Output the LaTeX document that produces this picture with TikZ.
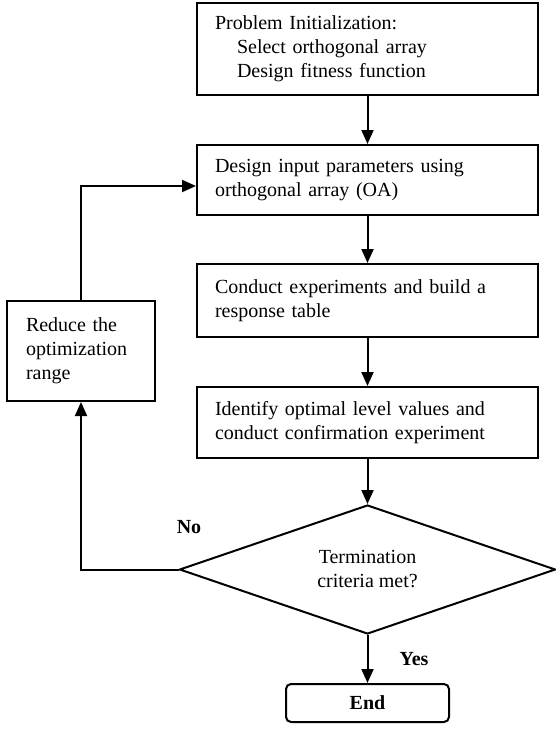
\documentclass[tikz,border=0pt]{standalone}
\usepackage{fontspec}
\setmainfont{Liberation Serif}
\usetikzlibrary{arrows.meta,shapes.geometric}
\begin{document}
\begin{tikzpicture}[x=1pt,y=-1pt,
  every node/.style={font=\fontsize{20}{24}\selectfont},
  arr/.style={line width=2pt,-{Triangle[length=14pt,width=12pt]}},
  procbox/.style={draw,line width=2pt,rectangle,minimum width=341pt,inner xsep=18pt,
     text width=305pt,align=left},
  sidebox/.style={draw,line width=2pt,rectangle,minimum width=148pt,minimum height=100pt,
     inner xsep=19pt,text width=110pt,align=left},
  decision/.style={draw,line width=2pt,diamond,minimum width=376pt,minimum height=129pt,
     inner sep=0pt,aspect=2.93,align=center},
  endbox/.style={draw,line width=2pt,rectangle,rounded corners=5pt,minimum width=163pt,
     minimum height=38pt,font=\fontsize{20}{24}\selectfont\bfseries},
  lbl/.style={font=\fontsize{20}{24}\selectfont\bfseries}]
\useasboundingbox (0,0) rectangle (556,736);
\node[procbox,minimum height=92pt] (b1) at (367.5,49)
  {Problem Initialization:\\\hspace*{22pt}Select orthogonal array\\\hspace*{22pt}Design fitness function};
\node[procbox,minimum height=70pt] (b2) at (367.5,180)
  {Design input parameters using\\orthogonal array (OA)};
\node[procbox,minimum height=73pt] (b3) at (367.5,300.5)
  {Conduct experiments and build a\\response table};
\node[procbox,minimum height=71pt] (b4) at (367.5,422.5)
  {Identify optimal level values and\\conduct confirmation experiment};
\node[decision] (d) at (367.5,569.5) {Termination\\criteria met?};
\node[endbox] (e) at (367.5,703) {End};
\node[sidebox] (r) at (81,351) {Reduce the\\optimization\\range};
\node[lbl] (no) at (189,527) {No};
\node[lbl] (yes) at (414,659) {Yes};
\draw[arr] (b1.south) -- (b2.north);
\draw[arr] (b2.south) -- (b3.north);
\draw[arr] (b3.south) -- (b4.north);
\draw[arr] (b4.south) -- (d.north);
\draw[arr] (d.south) -- (e.north);
\draw[arr] (d.west) -| (r.south);
\draw[arr] (r.north) |- ([yshift=-6pt]b2.west);
\end{tikzpicture}
\end{document}
